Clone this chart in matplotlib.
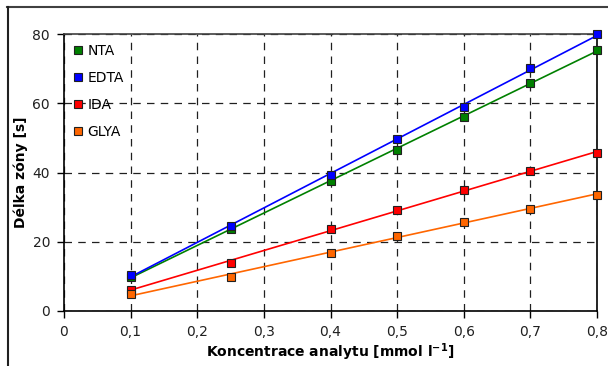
import numpy as np
import matplotlib
matplotlib.use("Agg")
import matplotlib.pyplot as plt
from matplotlib.lines import Line2D
from matplotlib.ticker import FuncFormatter

x = [0.1, 0.25, 0.4, 0.5, 0.6, 0.7, 0.8]
nta = [9.8, 23.8, 37.5, 46.5, 56.1, 65.8, 75.5]
edta = [10.4, 24.6, 39.3, 49.7, 58.9, 70.1, 79.9]
ida = [6.1, 14.0, 23.6, 29.2, 34.9, 40.3, 45.7]
glya = [4.8, 9.9, 16.8, 21.8, 25.7, 29.6, 33.6]

series = [("NTA", nta, "#008000", "#008000"),
          ("EDTA", edta, "#0000ff", "#0000ff"),
          ("IDA", ida, "#ff0000", "#ff0000"),
          ("GLYA", glya, "#ff6600", "#ff6600")]

W, H = 608, 366
fig = plt.figure(figsize=(W / 100, H / 100), dpi=100)
plt.rcParams['font.family'] = ['DejaVu Sans']

# outer frame (top and left visible)
fig.add_artist(Line2D([7 / W, 1.0], [1 - 7 / H, 1 - 7 / H], color="#404040", lw=1.5, transform=fig.transFigure))
fig.add_artist(Line2D([7.5 / W, 7.5 / W], [0, 1 - 7 / H], color="#202020", lw=1.5, transform=fig.transFigure))

left, right, top, bottom = 64, 597, 34, 311
ax = fig.add_axes([left / W, 1 - bottom / H, (right - left) / W, (bottom - top) / H])

xs = np.array(x)
for name, ys, col, mc in series:
    p = np.polyfit(xs, np.array(ys), 1)
    xl = np.array([xs.min(), xs.max()])
    ax.plot(xl, np.polyval(p, xl), color=col, lw=1.2, zorder=3, clip_on=False)
    ax.plot(xs, ys, ls="none", marker="s", ms=5.5, mfc=mc, mec="#202020", mew=0.8,
            zorder=4, clip_on=False, label=name)

ax.set_xlim(0, 0.8)
ax.set_ylim(0, 80)
ax.set_xticks(np.arange(0, 0.81, 0.1))
ax.set_yticks([0, 20, 40, 60, 80])
ax.xaxis.set_major_formatter(FuncFormatter(lambda v, _: ("%g" % round(v, 1)).replace(".", ",")))
ax.grid(True, color="#202020", ls=(0, (6, 5)), lw=0.9)
ax.set_axisbelow(True)
for s in ["left", "bottom", "right"]:
    ax.spines[s].set_color("black")
    ax.spines[s].set_linewidth(1.2)
ax.spines["top"].set_color("#404040")
ax.spines["top"].set_linewidth(1.2)
ax.tick_params(direction="out", length=5, width=1, labelsize=10, colors="black", pad=5)
for lab in ax.get_xticklabels() + ax.get_yticklabels():
    lab.set_color("#202020")

ax.set_xlabel("Koncentrace analytu [mmol l$^{\\mathregular{-1}}$]", fontsize=10, fontweight="bold")
ax.xaxis.set_label_coords(0.5, (311 - 352) / 277)
ax.set_ylabel("Délka zóny [s]", fontsize=10, fontweight="bold")
ax.yaxis.set_label_coords((21 - 64) / 533, 0.5)
ax.yaxis.label.set_verticalalignment("center")
ax.xaxis.label.set_verticalalignment("center")

leg = ax.legend(loc="upper left", frameon=False, fontsize=10, handlelength=0.6,
                handletextpad=0.4, labelspacing=0.95, borderaxespad=0.3,
                bbox_to_anchor=(0.0, 1.0))

fig.savefig("out.png", dpi=100)
